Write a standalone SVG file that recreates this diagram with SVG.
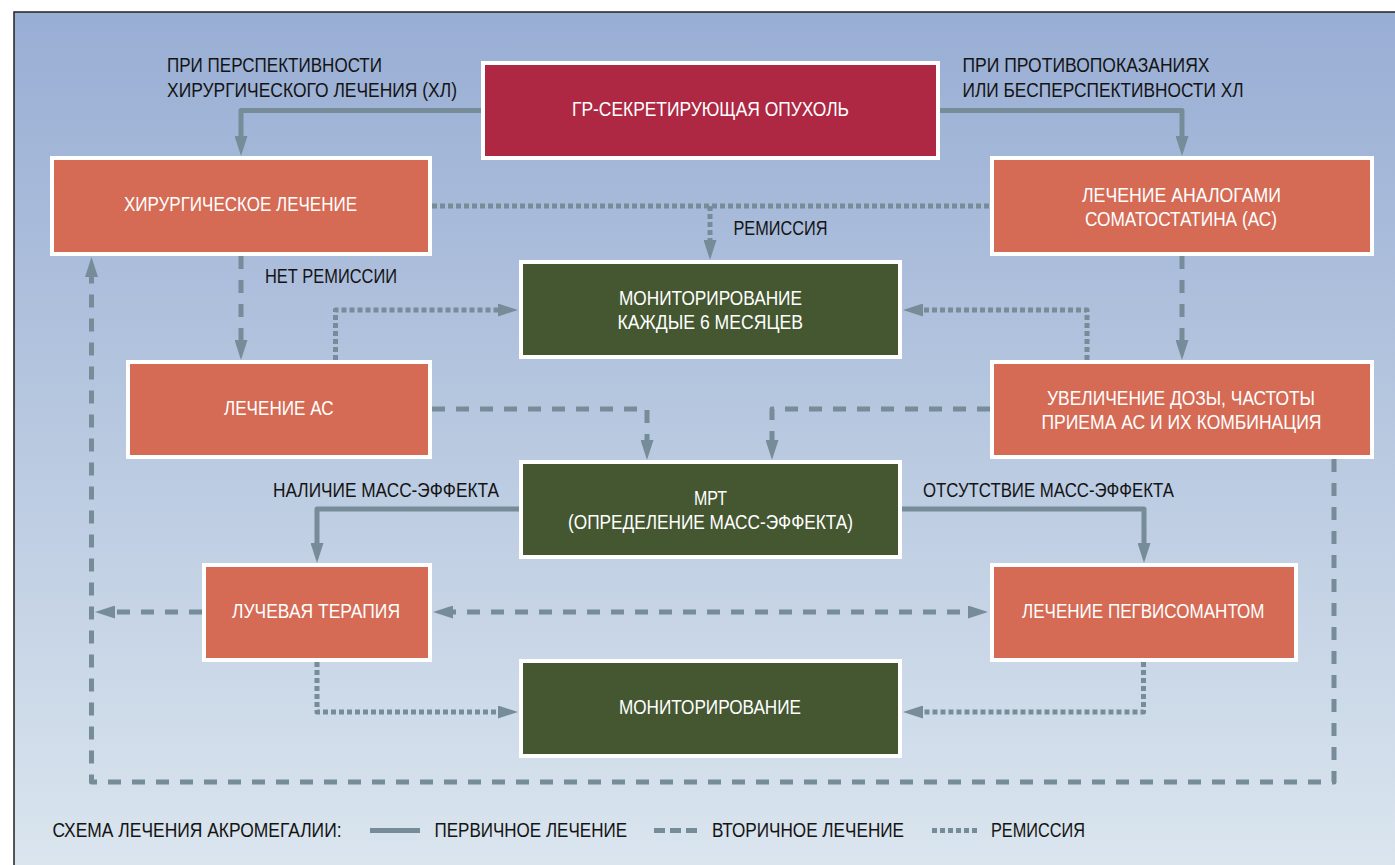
<svg xmlns="http://www.w3.org/2000/svg" width="1395" height="865" viewBox="0 0 1395 865">
<defs>
<linearGradient id="bg" x1="0" y1="0" x2="0" y2="1">
<stop offset="0" stop-color="#99AED5"/>
<stop offset="0.35" stop-color="#AEC0DC"/>
<stop offset="1" stop-color="#DAE5EE"/>
</linearGradient>
<marker id="ah" markerUnits="userSpaceOnUse" markerWidth="20" markerHeight="13" viewBox="0 0 20 13" refX="10" refY="6.5" orient="auto-start-reverse">
<path d="M0,0 L20,6.5 L0,13 z" fill="#778C99"/>
</marker>
<style>
.box{stroke:#fff;stroke-width:4}
.red{fill:#AE2843}
.org{fill:#D56B55}
.grn{fill:#445731}
.c{fill:none;stroke:#778C99;stroke-width:5;stroke-linejoin:round}
.solid{}
.dash{stroke-dasharray:13 11}
.dot{stroke-dasharray:5 3}
.arr{marker-end:url(#ah)}
text{font-family:"Liberation Sans",Arial,sans-serif;font-size:19.5px;lengthAdjust:spacingAndGlyphs}
.w{fill:#ffffff}
.k{fill:#141414}
</style>
</defs>
<rect x="0" y="0" width="1395" height="865" fill="#ffffff"/>
<rect x="14" y="12" width="1381" height="853" fill="url(#bg)"/>
<path d="M14,865 V12 H1395" fill="none" stroke="#222" stroke-width="1.5"/>

<g id="connectors">
<path class="c solid arr" d="M481,110.5 H241 V146"/>
<path class="c solid arr" d="M940,110.5 H1182 V146"/>
<path class="c dot" d="M432,206 H990"/>
<path class="c dot arr" d="M710,206 V250"/>
<path class="c dash arr" d="M241,256 V350"/>
<path class="c dash arr" d="M1182,256 V350"/>
<path class="c dot arr" d="M335.5,360 V310 H508"/>
<path class="c dot arr" d="M1087,360 V310 H913"/>
<path class="c dash arr" d="M432,409 H647 V450"/>
<path class="c dash arr" d="M990,409 H772 V450"/>
<path class="c solid arr" d="M519,509 H317 V553"/>
<path class="c solid arr" d="M902,509 H1144 V553"/>
<path class="c dash arr" style="marker-start:url(#ah)" d="M443,612 H978"/>
<path class="c dash arr" d="M202,612 H105"/>
<path class="c dash arr" d="M1334,459 V782 H91.5 V267"/>
<path class="c dot arr" d="M317,662 V712 H508"/>
<path class="c dot arr" d="M1143.5,662 V712 H913"/>
</g>

<g id="labels">
<text class="k" x="167" y="72" textLength="215" lengthAdjust="spacingAndGlyphs">ПРИ ПЕРСПЕКТИВНОСТИ</text>
<text class="k" x="167" y="96.5" textLength="290" lengthAdjust="spacingAndGlyphs">ХИРУРГИЧЕСКОГО ЛЕЧЕНИЯ (ХЛ)</text>
<text class="k" x="962.5" y="72" textLength="247" lengthAdjust="spacingAndGlyphs">ПРИ ПРОТИВОПОКАЗАНИЯХ</text>
<text class="k" x="962.5" y="96.5" textLength="281" lengthAdjust="spacingAndGlyphs">ИЛИ БЕСПЕРСПЕКТИВНОСТИ ХЛ</text>
<text class="k" x="733.5" y="235" textLength="94" lengthAdjust="spacingAndGlyphs">РЕМИССИЯ</text>
<text class="k" x="265" y="282.5" textLength="132" lengthAdjust="spacingAndGlyphs">НЕТ РЕМИССИИ</text>
<text class="k" x="273" y="497" textLength="226" lengthAdjust="spacingAndGlyphs">НАЛИЧИЕ МАСС-ЭФФЕКТА</text>
<text class="k" x="923" y="497" textLength="251" lengthAdjust="spacingAndGlyphs">ОТСУТСТВИЕ МАСС-ЭФФЕКТА</text>
</g>

<g id="n-tumor">
<rect class="box red" x="483" y="63" width="455" height="95"/>
<text class="w" x="572" y="116" textLength="277" lengthAdjust="spacingAndGlyphs">ГР-СЕКРЕТИРУЮЩАЯ ОПУХОЛЬ</text>
</g>
<g id="n-surgery">
<rect class="box org" x="52" y="158" width="378" height="96"/>
<text class="w" x="124" y="211" textLength="233" lengthAdjust="spacingAndGlyphs">ХИРУРГИЧЕСКОЕ ЛЕЧЕНИЕ</text>
</g>
<g id="n-ssa">
<rect class="box org" x="992" y="158" width="380" height="96"/>
<text class="w" x="1082" y="201.5" textLength="199" lengthAdjust="spacingAndGlyphs">ЛЕЧЕНИЕ АНАЛОГАМИ</text>
<text class="w" x="1085" y="226" textLength="192" lengthAdjust="spacingAndGlyphs">СОМАТОСТАТИНА (АС)</text>
</g>
<g id="n-monitor6">
<rect class="box grn" x="521" y="262" width="379" height="95"/>
<text class="w" x="619" y="305" textLength="183" lengthAdjust="spacingAndGlyphs">МОНИТОРИРОВАНИЕ</text>
<text class="w" x="617.5" y="329" textLength="185.5" lengthAdjust="spacingAndGlyphs">КАЖДЫЕ 6 МЕСЯЦЕВ</text>
</g>
<g id="n-ssa2">
<rect class="box org" x="128" y="362" width="302" height="95"/>
<text class="w" x="224" y="415" textLength="109.5" lengthAdjust="spacingAndGlyphs">ЛЕЧЕНИЕ АС</text>
</g>
<g id="n-dose">
<rect class="box org" x="992" y="362" width="380" height="95"/>
<text class="w" x="1047" y="405" textLength="268" lengthAdjust="spacingAndGlyphs">УВЕЛИЧЕНИЕ ДОЗЫ, ЧАСТОТЫ</text>
<text class="w" x="1041.5" y="428.5" textLength="280" lengthAdjust="spacingAndGlyphs">ПРИЕМА АС И ИХ КОМБИНАЦИЯ</text>
</g>
<g id="n-mri">
<rect class="box grn" x="521" y="462" width="379" height="95"/>
<text class="w" x="694" y="504.5" textLength="33" lengthAdjust="spacingAndGlyphs">МРТ</text>
<text class="w" x="568" y="529" textLength="285" lengthAdjust="spacingAndGlyphs">(ОПРЕДЕЛЕНИЕ МАСС-ЭФФЕКТА)</text>
</g>
<g id="n-radio">
<rect class="box org" x="204" y="565" width="226" height="95"/>
<text class="w" x="232" y="618" textLength="168" lengthAdjust="spacingAndGlyphs">ЛУЧЕВАЯ ТЕРАПИЯ</text>
</g>
<g id="n-peg">
<rect class="box org" x="992" y="565" width="304" height="95"/>
<text class="w" x="1022" y="618" textLength="242.5" lengthAdjust="spacingAndGlyphs">ЛЕЧЕНИЕ ПЕГВИСОМАНТОМ</text>
</g>
<g id="n-monitor">
<rect class="box grn" x="521" y="661" width="379" height="95"/>
<text class="w" x="619" y="714" textLength="182" lengthAdjust="spacingAndGlyphs">МОНИТОРИРОВАНИЕ</text>
</g>

<g id="legend">
<text class="k" x="52.5" y="837" textLength="289" lengthAdjust="spacingAndGlyphs">СХЕМА ЛЕЧЕНИЯ АКРОМЕГАЛИИ:</text>
<path class="c" d="M370,830.5 H420"/>
<text class="k" x="434.5" y="837" textLength="192.5" lengthAdjust="spacingAndGlyphs">ПЕРВИЧНОЕ ЛЕЧЕНИЕ</text>
<path class="c" style="stroke-dasharray:11 5" d="M654,830.5 H697"/>
<text class="k" x="712" y="837" textLength="192" lengthAdjust="spacingAndGlyphs">ВТОРИЧНОЕ ЛЕЧЕНИЕ</text>
<path class="c dot" d="M932,830.5 H979"/>
<text class="k" x="991" y="837" textLength="94" lengthAdjust="spacingAndGlyphs">РЕМИССИЯ</text>
</g>
</svg>
